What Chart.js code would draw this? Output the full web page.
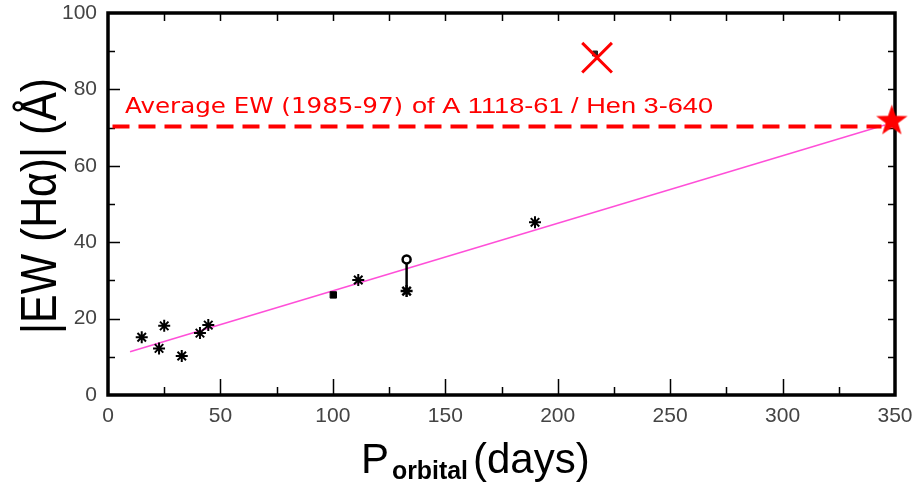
<!DOCTYPE html>
<html>
<head>
<meta charset="utf-8">
<script src="https://cdn.jsdelivr.net/npm/chart.js@4.4.1/dist/chart.umd.min.js"></script>
<style>
  body { margin: 0; background: #fff; }
  #wrap { width: 917px; height: 487px; }
</style>
</head>
<body>
<div id="wrap"><canvas id="grafico" width="917" height="487"></canvas></div>
<script>
// ---- data ----
const xTickValues = [0, 50, 100, 150, 200, 250, 300, 350];
const yTickValues = [0, 20, 40, 60, 80, 100];

// black asterisks
const starPeriods = [15, 25, 22.7, 32.8, 40.9, 44.6, 111.3, 189.9];
const starEW = [15.1, 18.1, 12.2, 10.2, 16.2, 18.3, 30.1, 45.2];

// filled square
const squarePeriods = [100.2];
const squareEW = [26.2];

// range bar (two measures of the same system)
const rangePeriods = [132.8, 132.8];
const rangeEW = [27.2, 35.5];

// red X and the small black point under it
const crossPeriods = [217.5];
const crossEW = [88.3];
const hiddenPeriods = [216.6];
const hiddenEW = [89.4];

// A 1118-61 / Hen 3-640
const henPeriods = [348.6];
const henEW = [71.7];

// average EW line
const avgPeriods = [2, 344];
const avgEW = [70.3, 70.3];
const avgLabel = ["Average EW (1985-97)", "of A 1118-61 / Hen 3-640"];

// linear fit
const fitPeriods = [9.8, 345.5];
const fitEW = [11.3, 70.7];

const pares = (xs, ys) => xs.map((x, i) => ({ x: x, y: ys[i] }));

// filled five-point star used as point style
function desenharEstrela(raio) {
  const c = document.createElement("canvas");
  const tam = Math.ceil(raio * 2 + 4);
  c.width = tam;
  c.height = tam;
  const g = c.getContext("2d");
  const cx = tam / 2;
  const cy = tam / 2;
  const interno = raio * 0.4;
  g.beginPath();
  for (let i = 0; i < 10; i++) {
    const r = i % 2 === 0 ? raio : interno;
    const a = -Math.PI / 2 + (i * Math.PI) / 5;
    const px = cx + r * Math.cos(a);
    const py = cy + r * Math.sin(a);
    if (i === 0) g.moveTo(px, py);
    else g.lineTo(px, py);
  }
  g.closePath();
  g.fillStyle = "#ff0000";
  g.fill();
  return c;
}

// text stretched/squeezed to a given width
function textoAjustado(ctx, texto, x, y, largura) {
  const w = ctx.measureText(texto).width;
  ctx.save();
  ctx.translate(x, y);
  ctx.scale(largura / w, 1);
  ctx.fillText(texto, 0, 0);
  ctx.restore();
}

// ---- frame with inward ticks ----
const molduraPlugin = {
  id: "moldura",
  beforeDatasetsDraw(chart) {
    const ctx = chart.ctx;
    const xs = chart.scales.x;
    const ys = chart.scales.y;
    const { left, right, top, bottom } = chart.chartArea;
    ctx.save();
    ctx.strokeStyle = "#000";
    ctx.lineWidth = 1.5;
    ctx.beginPath();
    for (let v = 25; v < 350; v += 25) {
      const px = Math.round(xs.getPixelForValue(v)) + 0.5;
      const major = v % 50 === 0;
      ctx.moveTo(px, bottom);
      ctx.lineTo(px, bottom - (major ? 16 : 8));
      ctx.moveTo(px, top);
      ctx.lineTo(px, top + 8);
    }
    for (let v = 10; v < 100; v += 10) {
      const py = Math.round(ys.getPixelForValue(v)) + 0.5;
      const major = v % 20 === 0;
      ctx.moveTo(left, py);
      ctx.lineTo(left + (major ? 12 : 7), py);
      ctx.moveTo(right, py);
      ctx.lineTo(right - 7, py);
    }
    ctx.stroke();
    ctx.lineWidth = 3.5;
    ctx.strokeRect(left, top, right - left, bottom - top);
    ctx.restore();
  },
  afterDraw(chart) {
    const ctx = chart.ctx;
    const xs = chart.scales.x;
    const ys = chart.scales.y;
    ctx.save();

    // red annotation
    ctx.fillStyle = "#ff0000";
    ctx.textBaseline = "alphabetic";
    ctx.textAlign = "left";
    const baseY = ys.getPixelForValue(73.8);
    ctx.font = "22px 'DejaVu Sans'";
    textoAjustado(ctx, avgLabel[0], xs.getPixelForValue(7.6), baseY, 278);
    ctx.font = "22px 'Liberation Sans', Arial";
    textoAjustado(ctx, avgLabel[1], xs.getPixelForValue(135.2), baseY, 301);

    // y title
    ctx.fillStyle = "#000";
    ctx.translate(56, 206);
    ctx.rotate(-Math.PI / 2);
    ctx.textAlign = "center";
    ctx.font = "50px 'Liberation Sans', Arial";
    ctx.fillText("|EW (H\u03b1)| (\u00c5)", 0, 0, 256);
    ctx.setTransform(1, 0, 0, 1, 0, 0);

    // x title with subscript
    ctx.textAlign = "left";
    ctx.font = "42px 'Liberation Sans', Arial";
    ctx.fillText("P", 361, 473);
    ctx.font = "bold 25px 'Liberation Sans', Arial";
    ctx.fillText("orbital", 392, 479, 76);
    ctx.font = "42px 'Liberation Sans', Arial";
    ctx.fillText("(days)", 473, 473, 120);
    ctx.restore();
  },
};

const tickFont = { family: "'Liberation Sans', Arial", size: 21 };

new Chart(document.getElementById("grafico"), {
  type: "scatter",
  data: {
    datasets: [
      {
        label: "Hen 3-640",
        data: pares(henPeriods, henEW),
        pointStyle: desenharEstrela(16.5),
        pointRadius: 16,
        clip: false,
        order: 0,
      },
      {
        label: "X",
        data: pares(crossPeriods, crossEW),
        pointStyle: "crossRot",
        pointRadius: 21,
        borderColor: "#ff0000",
        borderWidth: 3,
        order: 1,
      },
      {
        label: "hidden",
        data: pares(hiddenPeriods, hiddenEW),
        pointStyle: "rect",
        pointRadius: 3.5,
        backgroundColor: "#222",
        borderColor: "#222",
        order: 2,
      },
      {
        label: "asterisks",
        data: pares(starPeriods, starEW),
        pointStyle: "star",
        pointRadius: 6,
        borderColor: "#000",
        borderWidth: 2,
        order: 3,
      },
      {
        label: "square",
        data: pares(squarePeriods, squareEW),
        pointStyle: "rect",
        pointRadius: 4.5,
        backgroundColor: "#000",
        borderColor: "#000",
        order: 3,
      },
      {
        label: "range",
        data: pares(rangePeriods, rangeEW),
        showLine: true,
        borderColor: "#000",
        borderWidth: 2.5,
        pointStyle: ["star", "circle"],
        pointRadius: [6, 4],
        pointBackgroundColor: "#fff",
        pointBorderColor: "#000",
        pointBorderWidth: 2.5,
        order: 3,
      },
      {
        label: "average",
        data: pares(avgPeriods, avgEW),
        showLine: true,
        borderColor: "#ff0000",
        borderWidth: 4,
        borderDash: [17, 9],
        pointRadius: 0,
        order: 8,
      },
      {
        label: "fit",
        data: pares(fitPeriods, fitEW),
        showLine: true,
        borderColor: "#ff4fd8",
        borderWidth: 1.5,
        pointRadius: 0,
        order: 9,
      },
    ],
  },
  options: {
    responsive: false,
    animation: false,
    devicePixelRatio: 1,
    layout: { autoPadding: false, padding: { left: 0, top: 13, right: 22, bottom: 0 } },
    plugins: {
      legend: { display: false },
      tooltip: { enabled: false },
    },
    scales: {
      x: {
        type: "linear",
        min: 0,
        max: 350,
        grid: { display: false },
        border: { display: false },
        afterFit: (s) => {
          s.height = 92;
          s.paddingLeft = 0;
          s.paddingRight = 0;
        },
        afterBuildTicks: (s) => { s.ticks = xTickValues.map((v) => ({ value: v })); },
        ticks: { color: "#444", font: tickFont, padding: 1, maxRotation: 0 },
      },
      y: {
        type: "linear",
        min: 0,
        max: 100,
        grid: { display: false },
        border: { display: false },
        afterFit: (s) => {
          s.width = 108;
          s.paddingTop = 0;
          s.paddingBottom = 0;
        },
        afterBuildTicks: (s) => { s.ticks = yTickValues.map((v) => ({ value: v })); },
        ticks: { color: "#444", font: tickFont, padding: 3 },
      },
    },
  },
  plugins: [molduraPlugin],
});
</script>
</body>
</html>
